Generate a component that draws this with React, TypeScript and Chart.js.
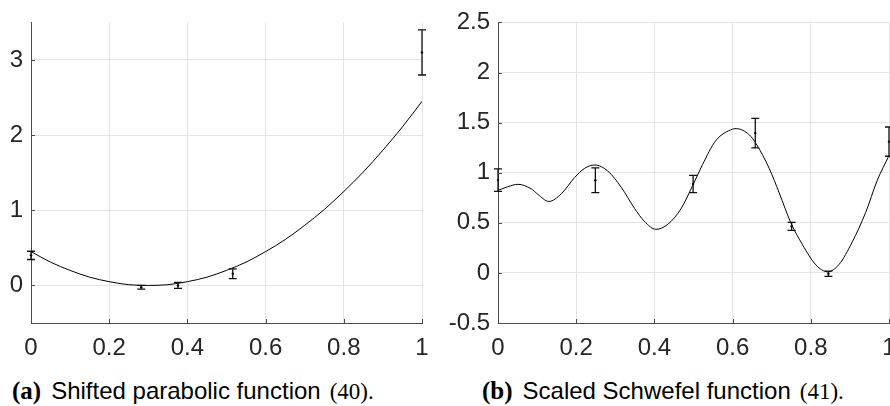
import React, { useEffect, useRef } from "react";
import { Chart, registerables } from "chart.js";

Chart.register(...registerables);

// ---------- data ----------
const xTicks = [0, 0.2, 0.4, 0.6, 0.8, 1];
const xTickLabels = ["0", "0.2", "0.4", "0.6", "0.8", "1"];

const leftYTicks = [0, 1, 2, 3];
const leftYTickLabels = ["0", "1", "2", "3"];
const rightYTicks = [-0.5, 0, 0.5, 1, 1.5, 2, 2.5];
const rightYTickLabels = ["-0.5", "0", "0.5", "1", "1.5", "2", "2.5"];

// Shifted parabolic function: model curve
const leftCurveX = [0, 0.05, 0.1, 0.15, 0.2, 0.25, 0.3, 0.35, 0.4, 0.45, 0.5, 0.55, 0.6, 0.65, 0.7, 0.75, 0.8, 0.85, 0.9, 0.95, 1.0];
const leftCurveY = [0.45, 0.31, 0.2, 0.11, 0.05, 0.01, 0, 0.01, 0.05, 0.11, 0.2, 0.31, 0.45, 0.61, 0.8, 1.01, 1.25, 1.51, 1.8, 2.11, 2.45];
// observations with error bars
const leftObsX = [0, 0.282, 0.376, 0.516, 1.0];
const leftObsY = [0.4, -0.025, 0.0, 0.155, 3.1];
const leftObsErr = [0.055, 0.025, 0.04, 0.065, 0.3];

// Scaled Schwefel function: model curve
const rightCurveX = [0, 0.025, 0.051, 0.085, 0.102, 0.13, 0.162, 0.196, 0.221, 0.247, 0.281, 0.315, 0.349, 0.374, 0.404, 0.434, 0.468, 0.5, 0.523, 0.557, 0.6, 0.609, 0.643, 0.66, 0.694, 0.719, 0.749, 0.779, 0.813, 0.843, 0.872, 0.906, 0.94, 0.97, 1.0];
const rightCurveY = [0.823, 0.86, 0.884, 0.839, 0.784, 0.713, 0.79, 0.952, 1.042, 1.077, 1.016, 0.855, 0.645, 0.516, 0.435, 0.484, 0.64, 0.89, 1.08, 1.32, 1.435, 1.44, 1.377, 1.29, 1.04, 0.8, 0.5, 0.28, 0.08, 0.011, 0.083, 0.309, 0.6, 0.924, 1.17];
const rightObsX = [0, 0.249, 0.499, 0.658, 0.751, 0.845, 1.0];
const rightObsY = [0.926, 0.925, 0.887, 1.395, 0.465, -0.008, 1.31];
const rightObsErr = [0.113, 0.123, 0.086, 0.148, 0.04, 0.026, 0.146];

const captionA = { tag: "(a)", text: "Shifted parabolic function", ref: "(40)." };
const captionB = { tag: "(b)", text: "Scaled Schwefel function", ref: "(41)." };

// ---------- styles ----------
const AXIS_COLOR = "#4a4a4a";
const GRID_COLOR = "#e4e4e4";
const TEXT_COLOR = "#262626";
const FONT = '"Liberation Sans", Arial, Helvetica, sans-serif';

const errorBarPlugin = {
  id: "errorBars",
  afterDatasetsDraw(chart: any) {
    const ctx = chart.ctx;
    const ys = chart.scales.y;
    chart.data.datasets.forEach((ds: any, i: number) => {
      if (!ds.errors) return;
      const meta = chart.getDatasetMeta(i);
      ctx.save();
      ctx.strokeStyle = "#111";
      ctx.lineWidth = 1.3;
      meta.data.forEach((pt: any, j: number) => {
        const v = ds.data[j].y;
        const e = ds.errors[j];
        const top = ys.getPixelForValue(v + e);
        const bot = ys.getPixelForValue(v - e);
        const x = pt.x;
        ctx.beginPath();
        ctx.moveTo(x, top);
        ctx.lineTo(x, bot);
        ctx.moveTo(x - 4, top);
        ctx.lineTo(x + 4, top);
        ctx.moveTo(x - 4, bot);
        ctx.lineTo(x + 4, bot);
        ctx.stroke();
      });
      ctx.restore();
    });
  },
};

const inwardTicksPlugin = {
  id: "inwardTicks",
  afterDraw(chart: any) {
    const ctx = chart.ctx;
    const { x, y } = chart.scales;
    const area = chart.chartArea;
    ctx.save();
    ctx.strokeStyle = AXIS_COLOR;
    ctx.lineWidth = 1;
    ctx.beginPath();
    x.ticks.forEach((t: any) => {
      const px = Math.round(x.getPixelForValue(t.value)) + 0.5;
      ctx.moveTo(px, area.bottom);
      ctx.lineTo(px, area.bottom - 4);
    });
    y.ticks.forEach((t: any) => {
      const py = Math.round(y.getPixelForValue(t.value)) + 0.5;
      ctx.moveTo(area.left, py);
      ctx.lineTo(area.left + 4, py);
    });
    ctx.stroke();
    ctx.restore();
  },
};

function makeConfig(
  curveX: number[], curveY: number[],
  obsX: number[], obsY: number[], obsErr: number[],
  yMin: number, yMax: number, yTicks: number[], yLabels: string[],
  yAxisWidth: number, padRight: number
): any {
  return {
    type: "scatter",
    data: {
      datasets: [
        {
          data: curveX.map((v, i) => ({ x: v, y: curveY[i] })),
          showLine: true,
          borderColor: "#000",
          borderWidth: 1,
          pointRadius: 0,
          cubicInterpolationMode: "monotone",
          fill: false,
        },
        {
          data: obsX.map((v, i) => ({ x: v, y: obsY[i] })),
          errors: obsErr,
          showLine: false,
          pointRadius: 1.2,
          pointBackgroundColor: "#000",
          pointBorderWidth: 0,
          clip: false,
        },
      ],
    },
    plugins: [errorBarPlugin, inwardTicksPlugin],
    options: {
      responsive: false,
      animation: false,
      devicePixelRatio: 1,
      layout: { padding: { top: 15, right: padRight, left: 0, bottom: 0 } },
      plugins: { legend: { display: false }, tooltip: { enabled: false } },
      scales: {
        x: {
          type: "linear",
          min: 0,
          max: 1,
          afterBuildTicks: (s: any) => { s.ticks = xTicks.map((v) => ({ value: v })); },
          afterFit: (s: any) => { s.height = 49; },
          ticks: {
            callback: (_v: any, idx: number) => xTickLabels[idx],
            font: { family: FONT, size: 24 },
            color: TEXT_COLOR,
            padding: 11,
            maxRotation: 0,
            autoSkip: false,
          },
          grid: { color: GRID_COLOR, drawTicks: false, lineWidth: 1 },
          border: { color: AXIS_COLOR, width: 1 },
        },
        y: {
          type: "linear",
          min: yMin,
          max: yMax,
          afterBuildTicks: (s: any) => { s.ticks = yTicks.map((v) => ({ value: v })); },
          afterFit: (s: any) => { s.width = yAxisWidth; },
          ticks: {
            callback: (_v: any, idx: number) => yLabels[idx],
            font: { family: FONT, size: 24 },
            color: TEXT_COLOR,
            padding: 8,
            autoSkip: false,
          },
          grid: { color: GRID_COLOR, drawTicks: false, lineWidth: 1 },
          border: { color: AXIS_COLOR, width: 1 },
        },
      },
    },
  };
}

function Caption({ c, left }: { c: { tag: string; text: string; ref: string }; left: number }) {
  return (
    <div
      style={{
        position: "absolute",
        left,
        top: 379,
        fontSize: 24,
        lineHeight: "24px",
        whiteSpace: "nowrap",
        color: "#000",
      }}
    >
      <span style={{ fontFamily: '"Liberation Serif", serif', fontWeight: "bold", fontSize: 25 }}>{c.tag}</span>
      <span style={{ fontFamily: FONT, marginLeft: 10 }}>{c.text}</span>
      <span style={{ fontFamily: '"Liberation Serif", serif', marginLeft: 9, fontSize: 23 }}>{c.ref}</span>
    </div>
  );
}

export default function App() {
  const leftRef = useRef<HTMLCanvasElement>(null);
  const rightRef = useRef<HTMLCanvasElement>(null);

  useEffect(() => {
    const c1 = new Chart(
      leftRef.current as HTMLCanvasElement,
      makeConfig(leftCurveX, leftCurveY, leftObsX, leftObsY, leftObsErr, -0.5, 3.5, leftYTicks, leftYTickLabels, 31, 23)
    );
    const c2 = new Chart(
      rightRef.current as HTMLCanvasElement,
      makeConfig(rightCurveX, rightCurveY, rightObsX, rightObsY, rightObsErr, -0.5, 2.5, rightYTicks, rightYTickLabels, 53, 26)
    );
    return () => {
      c1.destroy();
      c2.destroy();
    };
  }, []);

  return (
    <div
      style={{
        position: "absolute",
        left: 0,
        top: 0,
        width: 890,
        height: 406,
        overflow: "hidden",
        background: "#fff",
      }}
    >
      <canvas
        ref={leftRef}
        width={445}
        height={372}
        style={{ position: "absolute", left: 0, top: 0, width: 445, height: 372 }}
      />
      <canvas
        ref={rightRef}
        width={470}
        height={372}
        style={{ position: "absolute", left: 445, top: 0, width: 470, height: 372 }}
      />
      <Caption c={captionA} left={12} />
      <Caption c={captionB} left={482} />
    </div>
  );
}
